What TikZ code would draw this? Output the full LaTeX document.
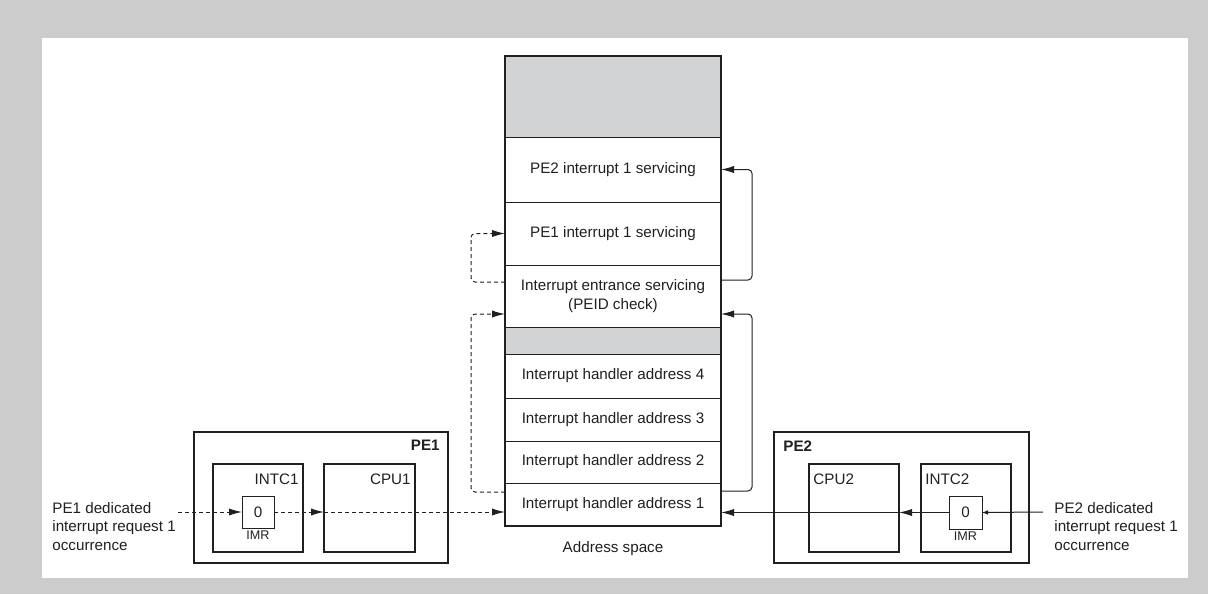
\documentclass[tikz,border=0pt]{standalone}
\usepackage{fontspec}
\setmainfont{Liberation Sans}
\usepackage{xcolor}
\usetikzlibrary{arrows.meta,positioning,calc}
\definecolor{frame}{HTML}{CCCCCC}
\definecolor{shade}{HTML}{D1D3D4}
\definecolor{ink}{HTML}{231F20}

\begin{document}
\begin{tikzpicture}[x=0.5pt,y=-0.5pt,font=\fontsize{7.6}{9.25}\selectfont,
  every node/.style={text=ink},
  row/.style={draw=ink,line width=0.5pt,minimum width=108pt,inner sep=0pt,outer sep=0pt,anchor=north,align=center},
  unit/.style={draw=ink,line width=0.9pt,inner sep=0pt,outer sep=0pt,anchor=north west},
  link/.style={draw=ink,line width=0.5pt},
  dlink/.style={link,dash pattern=on 2pt off 1.5pt},
  tip/.style={-{Latex[length=6.5pt,width=3.6pt]}},
  smalltip/.style={-{Latex[length=3pt,width=2.4pt]}}]
  \useasboundingbox (0,0) rectangle (1208,594);
  \fill[frame] (0,0) rectangle (1208,594);
  \fill[white] (42,38) rectangle (1188,578);
  % address space
  \node[row,fill=shade,minimum height=40.5pt] (gtop) at (613,56) {};
  \node[row,minimum height=32.5pt,below=0pt of gtop] (pe2row) {PE2 interrupt 1 servicing};
  \node[row,minimum height=31.5pt,below=0pt of pe2row] (pe1row) {PE1 interrupt 1 servicing};
  \node[row,minimum height=31pt,below=0pt of pe1row] (ent) {Interrupt entrance servicing\\(PEID check)};
  \node[row,fill=shade,minimum height=13.5pt,below=0pt of ent] (gmid) {};
  \node[row,minimum height=22pt,below=0pt of gmid] (h4) {Interrupt handler address 4};
  \node[row,minimum height=21.5pt,below=0pt of h4] (h3) {Interrupt handler address 3};
  \node[row,minimum height=21pt,below=0pt of h3] (h2) {Interrupt handler address 2};
  \node[row,minimum height=21.5pt,below=0pt of h2] (h1) {Interrupt handler address 1};
  \draw[ink,line width=0.9pt] (gtop.north west) rectangle (h1.south east);
  \node[below=4pt of h1] (addr) {Address space};
  % PE1
  \node[unit,minimum width=127pt,minimum height=65.5pt] (pe1) at (194,432) {};
  \node[anchor=north east,inner sep=0pt,font=\fontsize{7.6}{9.25}\selectfont\bfseries] (pe1lbl) at ([shift={(-4pt,-4pt)}]pe1.north east) {PE1};
  \node[unit,minimum width=45pt,minimum height=44pt] (intc1) at (213,464) {};
  \node[anchor=north east,inner sep=0pt] (intc1lbl) at ([shift={(-2pt,-4.5pt)}]intc1.north east) {INTC1};
  \node[unit,minimum width=45.5pt,minimum height=44pt] (cpu1) at (324,464) {};
  \node[anchor=north east,inner sep=0pt] (cpu1lbl) at ([shift={(-2pt,-4.5pt)}]cpu1.north east) {CPU1};
  \node[unit,line width=0.5pt,minimum size=16pt] (imr1) at (242,496) {0};
  \node[below=1pt of imr1,inner sep=0pt,font=\fontsize{6.3}{7}\selectfont] (imr1lbl) {IMR};
  % PE2
  \node[unit,minimum width=127.5pt,minimum height=65.5pt] (pe2) at (774,432) {};
  \node[anchor=north west,inner sep=0pt,font=\fontsize{7.6}{9.25}\selectfont\bfseries] (pe2lbl) at ([shift={(4.5pt,-4pt)}]pe2.north west) {PE2};
  \node[unit,minimum width=45pt,minimum height=44pt] (cpu2) at (809,464) {};
  \node[anchor=north west,inner sep=0pt] (cpu2lbl) at ([shift={(2pt,-4.5pt)}]cpu2.north west) {CPU2};
  \node[unit,minimum width=45pt,minimum height=44pt] (intc2) at (921,464) {};
  \node[anchor=north west,inner sep=0pt] (intc2lbl) at ([shift={(2pt,-4.5pt)}]intc2.north west) {INTC2};
  \node[unit,line width=0.5pt,minimum size=16.5pt] (imr2) at (949,496) {0};
  \node[below=1pt of imr2,inner sep=0pt,font=\fontsize{6.3}{7}\selectfont] (imr2lbl) {IMR};
  % requests
  \node[anchor=north west,align=left,inner sep=0pt] (req1txt) at (52,502) {PE1 dedicated\\interrupt request 1\\occurrence};
  \node[anchor=north west,align=left,inner sep=0pt] (req2txt) at (1054,502) {PE2 dedicated\\interrupt request 1\\occurrence};
  \coordinate (req1) at (178,512);
  \coordinate (req2) at (1043,512);
  \draw[dlink,tip] (req1) -- (imr1.west);
  \draw[dlink,tip] (imr1.east) -- (cpu1.west |- imr1.east);
  \draw[dlink,tip] (cpu1.west |- imr1.east) -- (h1.west |- imr1.east);
  \draw[link,smalltip] (req2) -- (imr2.east);
  \draw[link,tip] (imr2.west) -- (cpu2.east |- imr2.west);
  \draw[link,tip] (cpu2.east |- imr2.west) -- (h1.east |- imr2.west);
  % jumps in the address space
  \draw[link,tip,rounded corners=2pt] ([yshift=-4pt]h1.north east) -- ++(31,0) |- ([yshift=6.5pt]ent.south east);
  \draw[link,tip,rounded corners=2pt] ([yshift=-7.5pt]ent.north east) -- ++(31,0) |- (pe2row.east);
  \draw[dlink,tip,rounded corners=2pt] ([yshift=-4.5pt]h1.north west) -- ++(-34,0) |- ([yshift=6.5pt]ent.south west);
  \draw[dlink,tip,rounded corners=2pt] ([yshift=-8.5pt]ent.north west) -- ++(-34,0) |- (pe1row.west);
\end{tikzpicture}
\end{document}
